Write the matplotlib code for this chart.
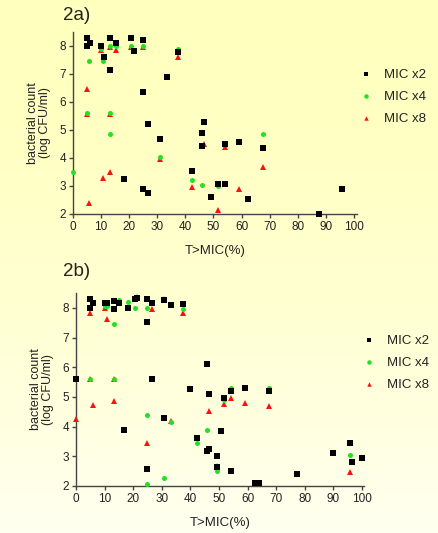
import numpy as np
import matplotlib
matplotlib.use("Agg")
import matplotlib.pyplot as plt
from matplotlib.lines import Line2D

plt.rcParams['font.family'] = ['Liberation Sans', 'DejaVu Sans']

# ---------------- Data: panel 2a ----------------
a_x2_x = [5, 5, 6, 10, 10.9, 13.3, 13.3, 15.2, 20.6, 21.7, 25.0, 25.0, 33.3, 37.5,
          26.7, 30.8, 18.3, 25.0, 26.7, 42.5, 45.8, 45.8, 46.6, 51.7, 54.2, 49.1,
          54.0, 59.0, 62.4, 67.6, 87.5, 95.8]
a_x2_y = [8.3, 8.0, 8.1, 8.0, 7.62, 8.3, 7.16, 8.1, 8.3, 7.83, 8.2, 6.36, 6.89, 7.79,
          5.2, 4.69, 3.25, 2.88, 2.76, 3.55, 4.9, 4.44, 5.3, 3.08, 3.08, 2.61,
          4.49, 4.58, 2.55, 4.37, 2.0, 2.88]
a_x4_x = [5, 5.8, 10, 10.8, 13.3, 15.2, 20.6, 25, 37.5, 5.1, 13.3, 13.3, 0, 30.8,
          42.5, 45.8, 51.7, 54.0, 59, 67.6]
a_x4_y = [8.0, 7.48, 7.89, 7.45, 8.0, 8.0, 8.0, 8.0, 7.9, 5.59, 5.59, 4.87, 3.5, 4.05,
          3.2, 3.03, 3.0, 4.5, 4.6, 4.85]
a_x8_x = [5.1, 5.1, 5.8, 10.8, 13.3, 13.3, 15.2, 10, 13.3, 25, 20.6, 37.5, 30.8,
          42.5, 46.6, 51.7, 54.0, 59.0, 67.6]
a_x8_y = [6.48, 5.57, 2.38, 3.27, 3.51, 5.57, 7.84, 7.87, 7.98, 7.98, 7.98, 7.59, 3.97,
          2.98, 4.49, 2.13, 4.38, 2.89, 3.69]

# ---------------- Data: panel 2b ----------------
b_x2_x = [0, 4.9, 4.9, 5.8, 10.0, 10.7, 13.3, 13.3, 15.0, 18.3, 20.6, 21.4, 24.9, 24.9,
          26.7, 30.7, 33.2, 37.4, 26.7, 16.8, 30.7, 24.9, 40.0, 45.8, 46.6, 42.4,
          45.8, 46.6, 49.2, 49.2, 50.7, 51.6, 54.1, 54.1, 59.0, 67.4, 62.5, 64.1,
          77.4, 89.7, 95.7, 96.6, 100.0]
b_x2_y = [5.59, 8.3, 7.99, 8.16, 8.18, 8.18, 8.24, 7.96, 8.18, 7.99, 8.3, 8.34, 8.3, 7.52,
          8.16, 8.27, 8.09, 8.14, 5.59, 3.88, 4.29, 2.57, 5.28, 6.1, 5.11, 3.6,
          3.19, 3.25, 3.02, 2.64, 3.84, 4.98, 5.19, 2.52, 5.3, 5.19, 2.09, 2.09,
          2.41, 3.1, 3.46, 2.82, 2.93]
b_x4_x = [0, 4.9, 13.3, 10.7, 10.0, 13.3, 15.0, 18.3, 20.6, 24.9, 37.4, 24.9, 24.9,
          30.7, 33.2, 42.4, 45.8, 49.2, 51.6, 54.1, 59.0, 67.4, 95.7]
b_x4_y = [5.59, 5.59, 5.59, 8.05, 8.07, 7.46, 8.26, 8.2, 7.99, 7.99, 7.96, 4.4, 2.08,
          2.26, 4.14, 3.44, 3.89, 2.52, 4.88, 5.31, 5.31, 5.31, 3.04]
b_x8_x = [0, 4.9, 5.8, 10.0, 10.7, 13.3, 13.3, 4.9, 24.9, 26.7, 37.4, 21.4, 33.2,
          42.4, 46.6, 49.2, 51.6, 54.1, 59.0, 67.4, 95.7, 30.7]
b_x8_y = [4.24, 7.81, 4.73, 7.98, 7.63, 4.87, 5.59, 5.59, 3.44, 7.97, 7.84, 8.36, 4.2,
          3.62, 4.52, 2.68, 4.77, 4.96, 4.79, 4.7, 2.47, 8.29]

legend_labels = ["MIC x2", "MIC x4", "MIC x8"]
x_ticks = list(range(0, 101, 10))
y_ticks = list(range(2, 9))

W, H = 439, 533
fig = plt.figure(figsize=(W / 100, H / 100), dpi=100)

# background gradient
bg = fig.add_axes([0, 0, 1, 1], zorder=-10)
top = np.array([255, 255, 190]) / 255
bot = np.array([255, 255, 240]) / 255
t = np.linspace(0, 1, 256)[:, None] ** 1.6
grad = top[None, :] * (1 - t) + bot[None, :] * t
bg.imshow(grad[:, None, :], aspect='auto', extent=[0, 1, 0, 1])
bg.set_axis_off()

TXT = '#222222'
SP = '#444444'

def make_panel(rect, xmax, title, title_xy, series, leg_anchor):
    ax = fig.add_axes(rect)
    ax.patch.set_alpha(0)
    styles = [dict(marker='s', color='black', ms=4.0),
              dict(marker='o', color='#22e022', ms=3.6),
              dict(marker='^', color='#ff1010', ms=4.0)]
    order = [2, 1, 0]
    for i in order:
        xs, ys = series[i]
        st = styles[i]
        ax.plot(xs, ys, linestyle='none', marker=st['marker'], color=st['color'],
                markersize=st['ms'], markeredgewidth=0, clip_on=False, zorder=3 + (2 - i))
    ax.set_xlim(0, xmax)
    ax.set_ylim(2, 8.5)
    ax.set_xticks(x_ticks)
    ax.set_yticks(y_ticks)
    for s in ['top', 'right']:
        ax.spines[s].set_visible(False)
    for s in ['left', 'bottom']:
        ax.spines[s].set_color(SP)
        ax.spines[s].set_linewidth(1.0)
    ax.tick_params(direction='out', length=3, width=1, colors=SP, labelcolor=TXT,
                   labelsize=8.5, pad=2)
    ax.set_xlabel("T>MIC(%)", fontsize=9.5, color=TXT, labelpad=9)
    ax.set_ylabel("bacterial count\n(log CFU/ml)", fontsize=9, color=TXT, labelpad=6,
                  linespacing=1.0)
    fig.text(title_xy[0], title_xy[1], title, fontsize=13.5, color=TXT,
             ha='left', va='center')
    handles = [Line2D([], [], linestyle='none', marker=styles[i]['marker'],
                      color=styles[i]['color'], markersize=3.2, markeredgewidth=0)
               for i in range(3)]
    leg = fig.legend(handles, legend_labels, loc='upper left', bbox_to_anchor=leg_anchor,
                     frameon=False, fontsize=9.5, handlelength=1.0, handletextpad=0.9,
                     labelspacing=0.75, borderpad=0, borderaxespad=0)
    for tx in leg.get_texts():
        tx.set_color(TXT)
    return ax

make_panel([73 / W, 1 - 214 / H, (357 - 73) / W, (214 - 32) / H], 101.1, "2a)",
           (63 / W, 1 - 15 / H),
           [(a_x2_x, a_x2_y), (a_x4_x, a_x4_y), (a_x8_x, a_x8_y)],
           (359 / W, 1 - 69 / H))
make_panel([76 / W, 1 - 486 / H, (364 - 76) / W, (486 - 293) / H], 100.7, "2b)",
           (63 / W, 1 - 271 / H),
           [(b_x2_x, b_x2_y), (b_x4_x, b_x4_y), (b_x8_x, b_x8_y)],
           (362 / W, 1 - 335 / H))

fig.savefig("out.png", dpi=100)
